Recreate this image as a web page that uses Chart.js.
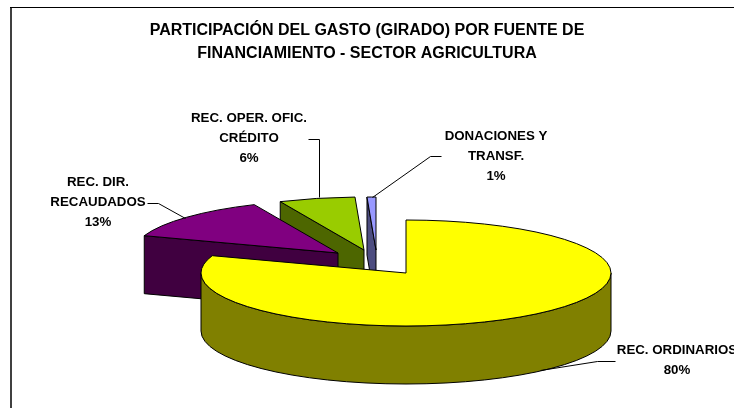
<!DOCTYPE html>
<html>
<head>
<meta charset="utf-8">
<title>Participación del gasto</title>
<script src="https://cdn.jsdelivr.net/npm/chart.js@4/dist/chart.umd.js"></script>
<style>
	html, body { margin: 0; padding: 0; background: #fff; overflow: hidden; }
	canvas { display: block; }
</style>
</head>
<body>
<canvas id="grafico" width="734" height="408"></canvas>
<script>
// Datos
const fuentes = ["REC. ORDINARIOS", "REC. DIR. RECAUDADOS", "REC. OPER. OFIC. CRÉDITO", "DONACIONES Y TRANSF."];
const participacion = [80.3, 13, 6, 0.7];
const titulo = ["PARTICIPACIÓN DEL GASTO (GIRADO) POR FUENTE DE", "FINANCIAMIENTO - SECTOR AGRICULTURA"];

const coloresCara = ["#ffff00", "#800080", "#99cc00", "#9999ff"];
const coloresLado = ["#808000", "#400040", "#4d6600", "#4d4d80"];

// Colocación del pastel 3D
const centroX = 406, centroY = 273;
const radioX = 205, radioY = 53, alto = 58;
const separacion = [[0, 0], [-68, -20], [-42, -23], [-30, -23]];

// Etiquetas y líneas guía
const etiquetas = [
	{ x: 677, y: 350, lineas: ["REC. ORDINARIOS"], guia: [[615, 361], [597, 361], [540, 370]] },
	{ x: 98, y: 182, lineas: ["REC. DIR.", "RECAUDADOS"], guia: [[147, 203], [158, 203], [185, 218]] },
	{ x: 249, y: 118, lineas: ["REC. OPER. OFIC.", "CRÉDITO"], guia: [[308, 139], [319, 139], [319, 197]] },
	{ x: 496, y: 136, lineas: ["DONACIONES Y", "TRANSF."], guia: [[441, 156], [430, 156], [372, 197]] }
];

function lado(ctx, color, trazar) {
	ctx.beginPath();
	trazar();
	ctx.closePath();
	ctx.fillStyle = color;
	ctx.fill();
	ctx.strokeStyle = "#000";
	ctx.lineWidth = 1;
	ctx.stroke();
}

function dibujarPorcion(ctx, arco, i) {
	const cx = centroX + separacion[i][0];
	const cy = centroY + separacion[i][1];
	const ini = arco.startAngle;
	const fin = arco.endAngle;

	// Corte delantero
	if (Math.cos(ini) < 0) {
		const px = cx + radioX * Math.cos(ini);
		const py = cy + radioY * Math.sin(ini);
		lado(ctx, coloresLado[i], function () {
			ctx.moveTo(cx, cy);
			ctx.lineTo(px, py);
			ctx.lineTo(px, py + alto);
			ctx.lineTo(cx, cy + alto);
		});
	}

	// Borde exterior visible (mitad delantera de la elipse)
	const a = Math.max(ini, 0);
	const b = Math.min(fin, Math.PI);
	if (b > a) {
		lado(ctx, coloresLado[i], function () {
			ctx.ellipse(cx, cy, radioX, radioY, 0, a, b);
			ctx.ellipse(cx, cy + alto, radioX, radioY, 0, b, a, true);
		});
	}

	// Cara superior: el arco de Chart.js aplastado
	ctx.save();
	ctx.translate(cx, cy);
	ctx.scale(1, radioY / arco.outerRadius);
	ctx.translate(-arco.x, -arco.y);
	arco.options.borderWidth = 0;
	arco.options.backgroundColor = coloresCara[i];
	arco.draw(ctx);
	ctx.restore();

	ctx.beginPath();
	ctx.moveTo(cx, cy);
	ctx.ellipse(cx, cy, radioX, radioY, 0, ini, fin);
	ctx.closePath();
	ctx.strokeStyle = "#000";
	ctx.lineWidth = 1;
	ctx.stroke();
}

const pastel3d = {
	id: "pastel3d",
	beforeDatasetsDraw(chart) {
		const ctx = chart.ctx;
		const arcos = chart.getDatasetMeta(0).data;
		ctx.save();
		// de atrás hacia delante
		for (let i = arcos.length - 1; i >= 0; i--) {
			dibujarPorcion(ctx, arcos[i], i);
		}
		ctx.restore();
		return false;
	},
	afterDraw(chart) {
		const ctx = chart.ctx;
		ctx.save();
		// Marco del gráfico
		ctx.strokeStyle = "#404040";
		ctx.lineWidth = 2;
		ctx.beginPath();
		ctx.moveTo(11, 408);
		ctx.lineTo(11, 7);
		ctx.stroke();
		ctx.strokeStyle = "#000";
		ctx.lineWidth = 1;
		ctx.beginPath();
		ctx.moveTo(10, 7.5);
		ctx.lineTo(734, 7.5);
		ctx.stroke();

		ctx.font = "bold 13.3px 'Liberation Sans'";
		ctx.textAlign = "center";
		ctx.textBaseline = "middle";
		ctx.fillStyle = "#000";
		etiquetas.forEach(function (e, i) {
			ctx.beginPath();
			e.guia.forEach(function (p, j) {
				if (j === 0) ctx.moveTo(p[0] + 0.5, p[1] + 0.5);
				else ctx.lineTo(p[0] + 0.5, p[1] + 0.5);
			});
			ctx.stroke();
			const textos = e.lineas.concat(Math.round(participacion[i]) + "%");
			textos.forEach(function (t, j) {
				ctx.fillText(t, e.x, e.y + j * 20);
			});
		});
		ctx.restore();
	}
};

new Chart(document.getElementById("grafico"), {
	type: "pie",
	data: {
		labels: fuentes,
		datasets: [{
			data: participacion,
			backgroundColor: coloresCara,
			borderWidth: 0
		}]
	},
	options: {
		responsive: false,
		animation: false,
		radius: radioX,
		plugins: {
			legend: { display: false },
			tooltip: { enabled: false },
			title: {
				display: true,
				text: titulo,
				color: "#000",
				font: { family: "'Liberation Sans'", size: 16, weight: "bold", lineHeight: 1.44 },
				padding: { top: 19, bottom: 0 }
			}
		}
	},
	plugins: [pastel3d]
});
</script>
</body>
</html>
